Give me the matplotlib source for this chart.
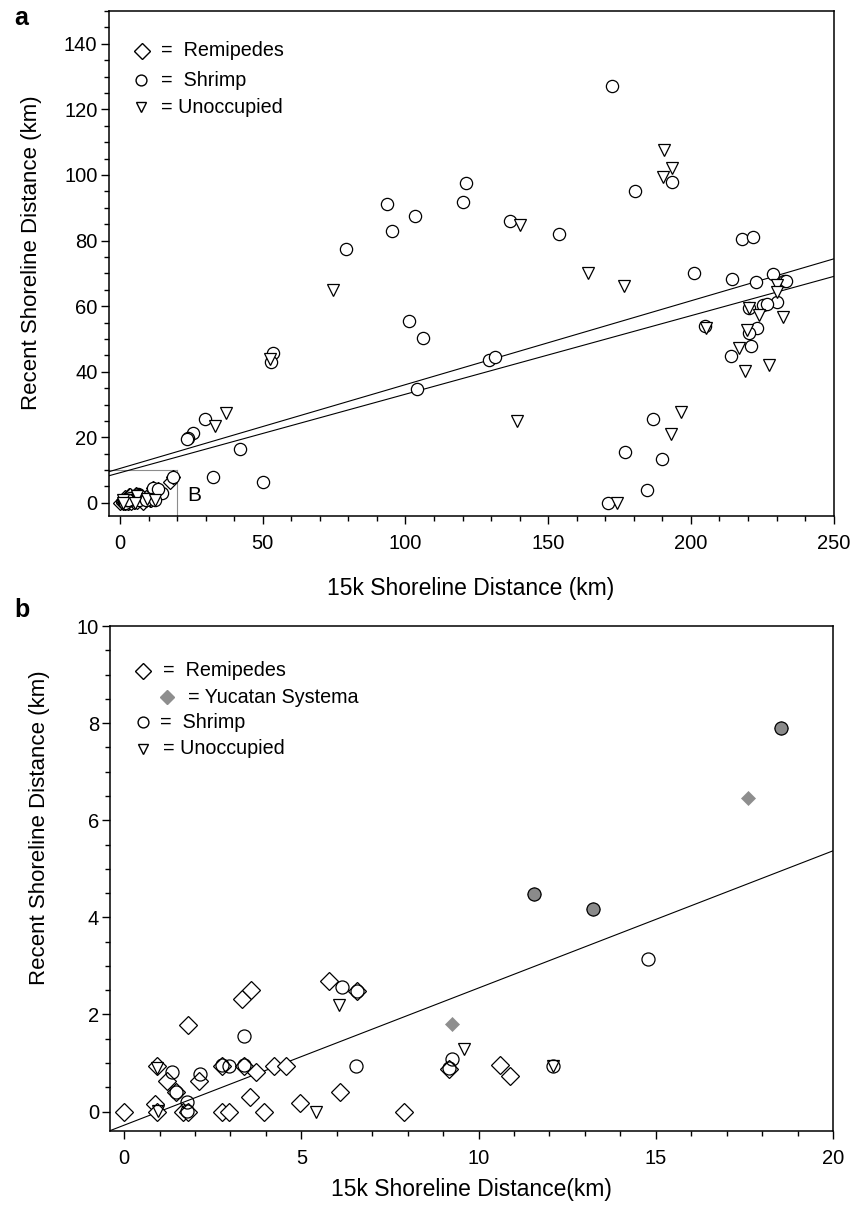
#!/usr/bin/env python3
"""Recent vs 15k shoreline distance for anchialine cave sites (panels a and b)."""

import matplotlib

matplotlib.use("Agg")
import matplotlib.pyplot as plt
from matplotlib.ticker import MultipleLocator
import numpy as np

plt.rcParams["font.family"] = ["Liberation Sans", "DejaVu Sans"]

# ---- panel a: sites beyond the B box (km) ----
shrimp_a_x = [172.4, 79.2, 93.7, 95.4, 103.2, 121.2, 120.3, 136.7, 153.9, 180.4,
              193.5, 201.2, 217.8, 221.7, 214.3, 222.8, 228.9, 232.7, 233.3, 230.3,
              225.4, 226.6, 220.2, 223.1, 220.2, 221.0, 214.1, 205.0, 129.3, 131.4,
              101.4, 106.0, 104.0, 53.7, 52.8, 29.8, 25.7, 23.9, 23.3, 42.0,
              32.7, 50.2, 186.9, 176.9, 190.0, 184.5, 171.1]
shrimp_a_y = [127.2, 77.3, 91.1, 82.9, 87.5, 97.7, 91.9, 86.0, 82.0, 95.1,
              98.0, 70.0, 80.4, 81.0, 68.2, 67.4, 69.8, 67.8, 67.6, 61.4,
              60.4, 60.7, 59.4, 53.3, 51.9, 47.9, 44.8, 53.8, 43.6, 44.4,
              55.6, 50.4, 34.7, 45.6, 43.1, 25.5, 21.4, 19.7, 19.5, 16.4,
              8.0, 6.5, 25.6, 15.5, 13.3, 3.8, 0.1]
unocc_a_x = [74.5, 140.2, 190.7, 193.3, 190.4, 164.1, 176.6, 230.1, 230.1, 232.2,
             224.0, 220.2, 219.6, 216.7, 218.8, 227.5, 205.3, 139.2, 196.5, 193.0,
             174.0, 52.6, 37.1, 33.3]
unocc_a_y = [64.9, 84.8, 107.6, 102.2, 99.5, 70.2, 66.0, 66.5, 64.4, 56.8,
             57.3, 59.4, 52.7, 47.3, 40.3, 42.1, 53.3, 25.1, 27.8, 21.0,
             0.0, 43.8, 27.3, 23.3]
# two regression lines in panel a: (intercept, slope)
fits_a = [(10.5, 0.2556), (9.2, 0.2394)]

# ---- panel b: box B close-up (km) ----
remi_x = [0.0, 0.88, 0.94, 0.92, 1.21, 1.47, 1.79, 1.66, 1.80, 2.10,
          2.76, 2.76, 2.95, 3.32, 3.58, 3.39, 3.54, 3.73, 3.94, 4.24,
          4.58, 4.97, 5.77, 6.57, 6.08, 7.89, 9.16, 10.60, 10.88]
remi_y = [0.0, 0.16, 0.0, 0.93, 0.62, 0.40, 1.78, 0.0, 0.0, 0.62,
          0.93, 0.0, 0.0, 2.32, 2.50, 0.93, 0.30, 0.81, 0.0, 0.93,
          0.93, 0.18, 2.68, 2.48, 0.40, 0.0, 0.88, 0.95, 0.74]
yuc_x = [9.26, 11.56, 13.24, 17.59, 18.53]
yuc_y = [1.81, 4.49, 4.17, 6.45, 7.90]
yuc_shrimp_x = [11.56, 13.24, 18.53]
yuc_shrimp_y = [4.49, 4.17, 7.90]
shrimp_b_x = [1.35, 1.47, 1.77, 1.78, 2.13, 2.95, 3.39, 3.39, 2.76, 6.14,
              6.57, 6.55, 9.26, 9.16, 14.77, 12.10]
shrimp_b_y = [0.81, 0.40, 0.19, 0.02, 0.78, 0.93, 1.55, 0.95, 0.95, 2.56,
              2.48, 0.93, 1.08, 0.90, 3.15, 0.93]
unocc_b_x = [0.92, 0.95, 6.05, 5.42, 9.59, 12.10]
unocc_b_y = [0.90, 0.02, 2.20, 0.0, 1.29, 0.93]
fit_b = (-0.28, 0.2825)

W, H = 862, 1205


def fig_xy(px, py):
    return px / W, 1 - py / H


def style_axes(ax, xmaj, xmin, ymaj, ymin):
    for s in ax.spines.values():
        s.set_linewidth(1.1)
    ax.xaxis.set_major_locator(MultipleLocator(xmaj))
    ax.xaxis.set_minor_locator(MultipleLocator(xmin))
    ax.yaxis.set_major_locator(MultipleLocator(ymaj))
    ax.yaxis.set_minor_locator(MultipleLocator(ymin))
    ax.tick_params(which="major", direction="out", length=6, width=1.0,
                   labelsize=14.5, top=False, right=False)
    ax.tick_params(which="minor", direction="out", length=3.8, width=1.0,
                   top=False, right=False)
    ax.tick_params(axis="x", which="major", pad=7)
    ax.tick_params(axis="y", which="major", pad=2)


def set_labels(ax, xlabel, ylabel, xpos, ypos):
    ax.set_xlabel(xlabel, fontsize=16.5)
    ax.set_ylabel(ylabel, fontsize=16)
    ax.xaxis.label.set_va("center")
    ax.yaxis.label.set_va("center")
    ax.xaxis.set_label_coords(*xpos)
    ax.yaxis.set_label_coords(*ypos)


def legend_row(fig, mpx, mpy, tpx, label, marker, ms, face="white", edge="k"):
    x, y = fig_xy(mpx, mpy)
    fig.lines.append(plt.Line2D([x], [y], marker=marker, ms=ms, mfc=face, mec=edge,
                                mew=1.0, ls="none", transform=fig.transFigure))
    tx, ty = fig_xy(tpx, mpy)
    fig.text(tx, ty, label, fontsize=14.2, va="center", ha="left")


def main() -> None:
    fig = plt.figure(figsize=(W / 100, H / 100), dpi=100)
    ax_a = fig.add_axes([108.6 / W, 1 - 516 / H, 725 / W, 505 / H])
    ax_b = fig.add_axes([110 / W, 1 - 1131 / H, 723 / W, 505 / H])

    # panel a
    ra_x = remi_x + yuc_x
    ra_y = remi_y + yuc_y
    sa_x = shrimp_a_x + shrimp_b_x + yuc_shrimp_x
    sa_y = shrimp_a_y + shrimp_b_y + yuc_shrimp_y
    ua_x = unocc_a_x + unocc_b_x
    ua_y = unocc_a_y + unocc_b_y
    xs = np.array([-4, 250])
    for b0, b1 in fits_a:
        ax_a.plot(xs, b0 + b1 * xs, color="k", lw=0.8, zorder=2)
    ax_a.plot([-4, 20], [10, 10], color="0.55", lw=0.8, zorder=1)
    ax_a.plot([20, 20], [-4, 10], color="0.55", lw=0.8, zorder=1)
    ax_a.text(23.5, 2.2, "B", fontsize=15, va="center", ha="left")
    ax_a.plot(ra_x, ra_y, ls="none", marker="D", ms=6.8, mfc="white", mec="k", mew=0.9, zorder=3)
    ax_a.plot(sa_x, sa_y, ls="none", marker="o", ms=8.8, mfc="white", mec="k", mew=0.9, zorder=3)
    ax_a.plot(ua_x, ua_y, ls="none", marker="v", ms=8.8, mfc="white", mec="k", mew=0.9, zorder=3)
    ax_a.set_xlim(-4, 250)
    ax_a.set_ylim(-4, 150)
    style_axes(ax_a, 50, 10, 20, 5)
    set_labels(ax_a, "15k Shoreline Distance (km)", "Recent Shoreline Distance (km)",
               (0.5, -0.143), (-0.107, 0.522))

    # panel b
    xs = np.array([-0.4, 20])
    ax_b.plot(xs, fit_b[0] + fit_b[1] * xs, color="k", lw=0.8, zorder=2)
    ax_b.plot(remi_x, remi_y, ls="none", marker="D", ms=8.7, mfc="white", mec="k", mew=0.9, zorder=3)
    ax_b.plot(yuc_x, yuc_y, ls="none", marker="D", ms=7.6, mfc="#8e8e8e", mec="#8e8e8e", mew=0.5, zorder=3)
    ax_b.plot(shrimp_b_x, shrimp_b_y, ls="none", marker="o", ms=9.4, mfc="none", mec="k", mew=0.9, zorder=4)
    ax_b.plot(yuc_shrimp_x, yuc_shrimp_y, ls="none", marker="o", ms=9.4, mfc="#8a8a8a", mec="k", mew=0.9, zorder=4)
    ax_b.plot(unocc_b_x, unocc_b_y, ls="none", marker="v", ms=8.6, mfc="none", mec="k", mew=0.9, zorder=4)
    ax_b.set_xlim(-0.4, 20)
    ax_b.set_ylim(-0.4, 10)
    style_axes(ax_b, 5, 1, 2, 0.5)
    set_labels(ax_b, "15k Shoreline Distance(km)", "Recent Shoreline Distance (km)",
               (0.5, -0.115), (-0.098, 0.6))

    # hand-drawn legends
    legend_row(fig, 141.7, 50.7, 161, "=  Remipedes", "D", 7.8)
    legend_row(fig, 140.7, 80, 161, "=  Shrimp", "o", 7.8)
    legend_row(fig, 140.7, 107.3, 161, "= Unoccupied", "v", 7.8)
    legend_row(fig, 143.3, 671, 163, "=  Remipedes", "D", 7.8)
    legend_row(fig, 166.7, 697.3, 188, "= Yucatan Systema", "D", 7.2, face="#8e8e8e", edge="#8e8e8e")
    legend_row(fig, 142.7, 722.3, 160, "=  Shrimp", "o", 7.8)
    legend_row(fig, 143.3, 749, 163, "= Unoccupied", "v", 7.8)

    fig.text(*fig_xy(14, 18), "a", fontsize=18, fontweight="bold", va="center")
    fig.text(*fig_xy(14, 610), "b", fontsize=18, fontweight="bold", va="center")

    fig.savefig("out.png", dpi=100)
    plt.close(fig)


if __name__ == "__main__":
    main()
